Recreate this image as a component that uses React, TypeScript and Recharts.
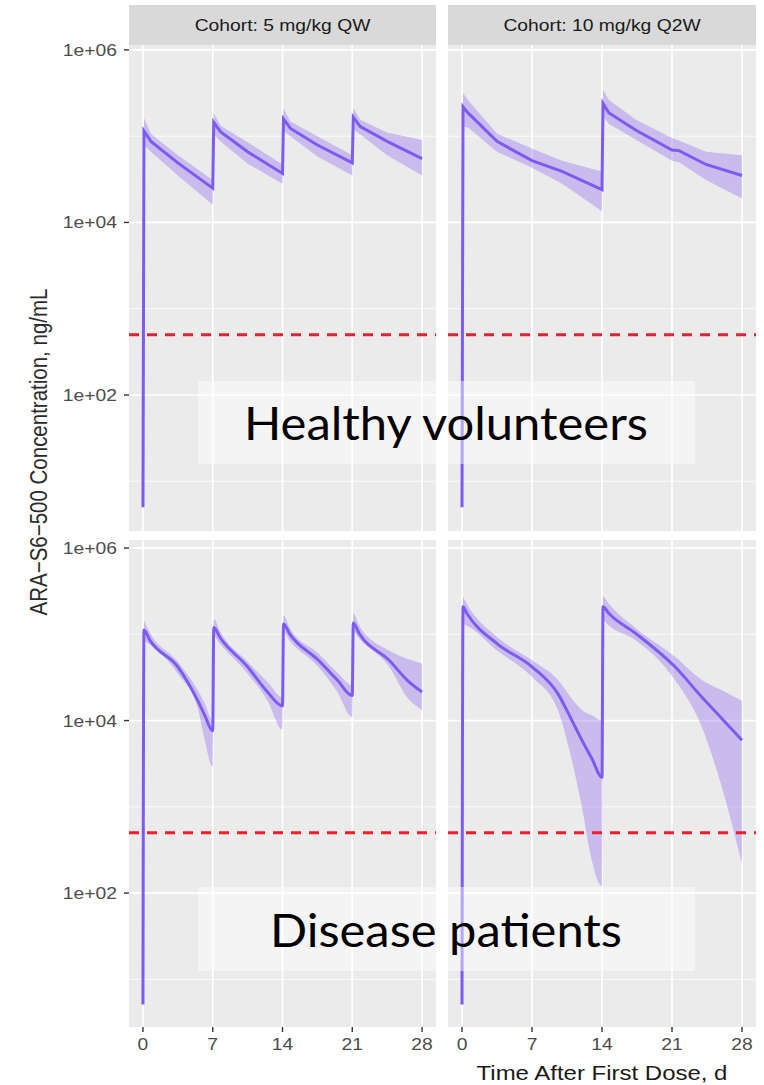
import { Area, CartesianGrid, ComposedChart, Line, ReferenceLine, XAxis, YAxis } from "recharts";

const FONT = "'Liberation Sans', Arial, sans-serif";
const STRETCH = 1.17; // the source picture is a little wider than tall

const DAY_TICKS = [0, 7, 14, 21, 28];
const CONC_TICKS = [1e2, 1e4, 1e6];
const CONC_MINOR = [1e1, 1e3, 1e5];
const LLOQ = 500;
const COHORTS = ["Cohort: 5 mg/kg QW", "Cohort: 10 mg/kg Q2W"];
const POPULATIONS = ["Healthy volunteers", "Disease patients"];

// healthy volunteers, 5 mg/kg QW
const hvQwTime = [0, 0.1, 0.8, 3.5, 7, 7.1, 7.8, 10.5, 14, 14.1, 14.8, 17.5, 21, 21.1, 21.8, 24.5, 28];
const hvQwConc = [5, 1.15e5, 8.7e4, 4.9e4, 2.5e4, 1.45e5, 1.12e5, 6.6e4, 3.7e4, 1.58e5, 1.23e5, 7.9e4, 4.9e4, 1.66e5, 1.29e5, 8.7e4, 5.5e4];
const hvQwLow = [null, 7.9e4, 6.6e4, 3.5e4, 1.6e4, 1.05e5, 8.7e4, 4.8e4, 2.8e4, 1.15e5, 1.0e5, 5.8e4, 3.5e4, 1.2e5, 1.05e5, 6.0e4, 3.5e4];
const hvQwHigh = [null, 1.62e5, 1.07e5, 6.0e4, 3.1e4, 1.86e5, 1.32e5, 8.5e4, 4.7e4, 2.09e5, 1.48e5, 1.0e5, 6.0e4, 2.14e5, 1.55e5, 1.1e5, 9.0e4];

// healthy volunteers, 10 mg/kg Q2W
const hvQ2wTime = [0, 0.1, 0.6, 3.5, 7, 10, 14, 14.1, 14.7, 17.4, 21, 21.7, 24.4, 28];
const hvQ2wConc = [5, 2.19e5, 1.86e5, 8.7e4, 5.2e4, 3.9e4, 2.4e4, 2.4e5, 1.86e5, 1.17e5, 6.9e4, 6.8e4, 4.7e4, 3.5e4];
const hvQ2wLow = [null, 1.29e5, 1.26e5, 6.6e4, 4.3e4, 2.8e4, 1.35e4, 1.7e5, 1.38e5, 9.1e4, 5.2e4, 5.0e4, 3.1e4, 1.9e4];
const hvQ2wHigh = [null, 3.16e5, 2.63e5, 1.07e5, 7.2e4, 5.2e4, 3.9e4, 3.47e5, 2.63e5, 1.55e5, 9.5e4, 8.9e4, 6.6e4, 6.0e4];

// disease patients, 5 mg/kg QW
const dpQwTime = [0, 0.1, 0.7, 3.5, 5.5, 6.2, 7, 7.1, 7.7, 10.5, 12.5, 14, 14.1, 14.7, 17.6, 19.5, 21, 21.1, 21.7, 24.7, 26.5, 28];
const dpQwConc = [5.1, 1.12e5, 8.5e4, 4.2e4, 1.7e4, 1.15e4, 7.6e3, 1.2e5, 9.3e4, 4.2e4, 2.14e4, 1.48e4, 1.32e5, 1.02e5, 5.0e4, 2.95e4, 1.95e4, 1.35e5, 1.02e5, 5.0e4, 2.95e4, 2.14e4];
const dpQwLow = [null, 8.5e4, 7.6e4, 3.5e4, 1.4e4, 5.9e3, 2.9e3, 9.5e4, 7.8e4, 3.5e4, 1.7e4, 7.9e3, 1.05e5, 8.5e4, 4.2e4, 2.14e4, 1.1e4, 1.07e5, 8.9e4, 4.2e4, 1.86e4, 1.32e4];
const dpQwHigh = [null, 1.45e5, 1.05e5, 4.8e4, 2.24e4, 1.58e4, 1.0e4, 1.51e5, 1.1e5, 4.8e4, 2.8e4, 1.86e4, 1.66e5, 1.2e5, 6.0e4, 3.6e4, 2.57e4, 1.74e5, 1.26e5, 6.5e4, 5.2e4, 4.6e4];

// disease patients, 10 mg/kg Q2W
const dpQ2wTime = [0, 0.1, 0.5, 3.5, 7, 9.6, 11, 12, 13, 14, 14.1, 14.7, 17.4, 21.3, 24, 26, 28];
const dpQ2wConc = [5.1, 2.09e5, 1.74e5, 7.8e4, 4.2e4, 2.04e4, 1.0e4, 5.9e3, 3.6e3, 2.2e3, 2.09e5, 1.74e5, 1.02e5, 4.2e4, 1.86e4, 1.05e4, 5.9e3];
const dpQ2wLow = [null, 1.32e5, 1.26e5, 6.5e4, 3.2e4, 1.32e4, 3.4e3, 980, 234, 120, 1.45e5, 1.26e5, 8.5e4, 2.95e4, 8.3e3, 1.66e3, 219];
const dpQ2wHigh = [null, 2.75e5, 2.24e5, 9.3e4, 5.0e4, 2.95e4, 1.78e4, 1.32e4, 1.15e4, 1.0e4, 2.75e5, 2.24e5, 1.17e5, 5.5e4, 2.95e4, 2.24e4, 1.7e4];

const TOP_DOMAIN = [2.65, 1.14e6];
const BOTTOM_DOMAIN = [2.8, 1.24e6];

const sci = (v: number) => "1e+" + String(Math.round(Math.log10(v))).padStart(2, "0");

const xTick = ({ x, y, payload }: any) => (
  <text
    transform={`translate(${x},${y}) scale(${STRETCH},1)`}
    textAnchor="middle"
    dy="0.71em"
    fontSize={16.5}
    fontFamily={FONT}
    fill="#4d4d4d"
  >
    {payload.value}
  </text>
);

const yTick = ({ x, y, payload }: any) => (
  <text
    transform={`translate(${x},${y}) scale(${STRETCH},1)`}
    textAnchor="end"
    dy="0.36em"
    fontSize={16.5}
    fontFamily={FONT}
    fill="#4d4d4d"
  >
    {sci(payload.value)}
  </text>
);

type PanelProps = {
  time: number[];
  conc: number[];
  low: (number | null)[];
  high: (number | null)[];
  left: number;
  top: number;
  width: number;
  height: number;
  domain: number[];
  curve: "linear" | "monotoneX";
  showY?: boolean;
  showX?: boolean;
};

const PAD = 12; // room above the plot so the top tick label is not clipped

function Panel({ time, conc, low, high, left, top, width, height, domain, curve, showY, showX }: PanelProps) {
  const rows = time.map((t, i) => ({
    t,
    conc: conc[i],
    band: low[i] == null ? null : [low[i], high[i]],
  }));
  const yw = showY ? left : 0;
  const xh = showX ? 40 : 0;
  const w = width + yw;
  const h = height + xh + PAD;
  return (
    <div style={{ position: "absolute", left: left - yw, top: top - PAD, width: w, height: h }}>
      <ComposedChart width={w} height={h} data={rows} margin={{ top: PAD, right: 0, bottom: 0, left: 0 }}>
        <CartesianGrid fill="#ebebeb" stroke="#ffffff" strokeWidth={0.8} vertical={false} horizontalValues={CONC_MINOR} />
        <CartesianGrid stroke="#ffffff" strokeWidth={1.7} horizontalValues={CONC_TICKS} verticalValues={DAY_TICKS} />
        <XAxis
          type="number"
          dataKey="t"
          domain={[-1.4, 29.4]}
          ticks={DAY_TICKS}
          interval={0}
          allowDataOverflow
          hide={!showX}
          height={xh}
          axisLine={false}
          tickLine={{ stroke: "#333333", strokeWidth: 1.4 }}
          tickSize={5}
          tickMargin={6}
          tick={xTick}
        />
        <YAxis
          type="number"
          scale="log"
          domain={domain}
          ticks={CONC_TICKS}
          interval={0}
          allowDataOverflow
          hide={!showY}
          width={yw}
          axisLine={false}
          tickLine={{ stroke: "#333333", strokeWidth: 1.4 }}
          tickSize={5}
          tickMargin={7}
          tick={yTick}
        />
        <Area
          type={curve}
          dataKey="band"
          stroke="none"
          fill="#8a63f2"
          fillOpacity={0.35}
          isAnimationActive={false}
          activeDot={false}
        />
        <Line
          type={curve}
          dataKey="conc"
          stroke="#7b5bf0"
          strokeWidth={3}
          dot={false}
          activeDot={false}
          isAnimationActive={false}
        />
        <ReferenceLine y={LLOQ} stroke="#e8202f" strokeWidth={3} strokeDasharray="10 8" />
      </ComposedChart>
    </div>
  );
}

export default function App() {
  return (
    <div style={{ position: "absolute", left: 0, top: 0, width: 764, height: 1085, background: "#fff", overflow: "hidden" }}>
      <Panel time={hvQwTime} conc={hvQwConc} low={hvQwLow} high={hvQwHigh} left={129} top={45} width={307} height={486} domain={TOP_DOMAIN} curve="linear" showY />
      <Panel time={hvQ2wTime} conc={hvQ2wConc} low={hvQ2wLow} high={hvQ2wHigh} left={448} top={45} width={308} height={486} domain={TOP_DOMAIN} curve="linear" />
      <Panel time={dpQwTime} conc={dpQwConc} low={dpQwLow} high={dpQwHigh} left={129} top={540} width={307} height={487} domain={BOTTOM_DOMAIN} curve="monotoneX" showY showX />
      <Panel time={dpQ2wTime} conc={dpQ2wConc} low={dpQ2wLow} high={dpQ2wHigh} left={448} top={540} width={308} height={487} domain={BOTTOM_DOMAIN} curve="monotoneX" showX />

      <svg width={764} height={1085} style={{ position: "absolute", left: 0, top: 0, pointerEvents: "none" }}>
        {/* facet strips */}
        <rect x={129} y={5} width={307} height={40} fill="#d9d9d9" />
        <rect x={448} y={5} width={308} height={40} fill="#d9d9d9" />
        <text transform={`translate(282.5,25.5) scale(${STRETCH},1)`} textAnchor="middle" dy="0.36em" fontSize={16.5} fontFamily={FONT} fill="#1a1a1a">
          {COHORTS[0]}
        </text>
        <text transform={`translate(602,25.5) scale(${STRETCH},1)`} textAnchor="middle" dy="0.36em" fontSize={16.5} fontFamily={FONT} fill="#1a1a1a">
          {COHORTS[1]}
        </text>

        {/* axis titles */}
        <text transform={`translate(38,452) rotate(-90) scale(1,${STRETCH})`} textAnchor="middle" dy="0.36em" fontSize={20.5} fontFamily={FONT} fill="#2b2b2b">
          ARA−S6−500 Concentration, ng/mL
        </text>
        <text transform={`translate(602,1080) scale(${STRETCH},1)`} textAnchor="middle" fontSize={20.5} fontFamily={FONT} fill="#1a1a1a">
          Time After First Dose, d
        </text>

        {/* population labels */}
        <rect x={198} y={381} width={497} height={83} fill="#ffffff" fillOpacity={0.45} />
        <text x={446} y={440} textAnchor="middle" fontSize={46} fontFamily="Lato, 'Open Sans', sans-serif" fill="#000" textLength={404} lengthAdjust="spacingAndGlyphs">
          {POPULATIONS[0]}
        </text>
        <rect x={198} y={887} width={497} height={84} fill="#ffffff" fillOpacity={0.45} />
        <text x={446} y={947} textAnchor="middle" fontSize={46} fontFamily="Lato, 'Open Sans', sans-serif" fill="#000" textLength={352} lengthAdjust="spacingAndGlyphs">
          {POPULATIONS[1]}
        </text>
      </svg>
    </div>
  );
}
